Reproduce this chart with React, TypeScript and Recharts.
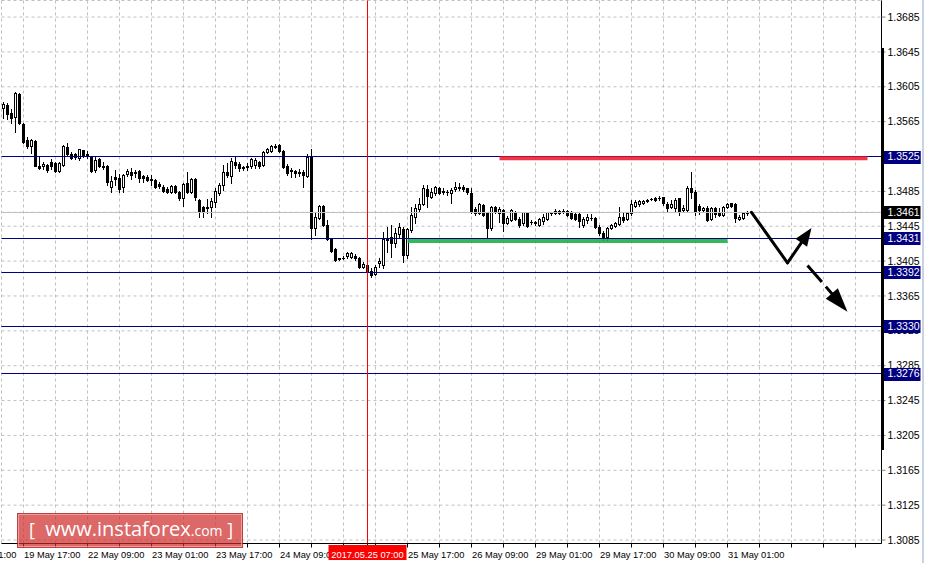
import React from 'react';
import { ComposedChart, Bar, XAxis, YAxis, CartesianGrid, ReferenceLine } from 'recharts';

// H1 candles, [open, high, low, close], one list per trading day
const may19 = [
  [1.3581, 1.3588, 1.3569, 1.3585], [1.3584, 1.3586, 1.3568, 1.3574], [1.3575, 1.3579, 1.3563, 1.3569],
  [1.3570, 1.3599, 1.3553, 1.3598], [1.3597, 1.3598, 1.3562, 1.3563], [1.3562, 1.3563, 1.3541, 1.3542],
  [1.3544, 1.3547, 1.3535, 1.3537], [1.3537, 1.3545, 1.3529, 1.3544], [1.3543, 1.3544, 1.3514, 1.3514],
  [1.3514, 1.3524, 1.3511, 1.3512], [1.3514, 1.3519, 1.3511, 1.3516], [1.3515, 1.3516, 1.3507, 1.3510],
];
const may22 = [
  [1.3519, 1.3522, 1.3511, 1.3514], [1.3518, 1.3519, 1.3507, 1.3508], [1.3508, 1.3519, 1.3507, 1.3518],
  [1.3515, 1.3538, 1.3514, 1.3537], [1.3536, 1.3540, 1.3526, 1.3528], [1.3528, 1.3530, 1.3522, 1.3523],
  [1.3528, 1.3529, 1.3522, 1.3524], [1.3523, 1.3534, 1.3521, 1.3534], [1.3532, 1.3533, 1.3524, 1.3527],
  [1.3528, 1.3531, 1.3523, 1.3526], [1.3524, 1.3526, 1.3507, 1.3508], [1.3510, 1.3526, 1.3507, 1.3521],
  [1.3522, 1.3523, 1.3513, 1.3514], [1.3514, 1.3519, 1.3511, 1.3513], [1.3514, 1.3515, 1.3492, 1.3496],
  [1.3490, 1.3503, 1.3484, 1.3497], [1.3502, 1.3510, 1.3492, 1.3499], [1.3500, 1.3505, 1.3484, 1.3488],
  [1.3490, 1.3505, 1.3484, 1.3504], [1.3505, 1.3511, 1.3503, 1.3508], [1.3507, 1.3512, 1.3499, 1.3504],
  [1.3507, 1.3510, 1.3502, 1.3506], [1.3508, 1.3510, 1.3496, 1.3500], [1.3503, 1.3504, 1.3496, 1.3500],
];
const may23 = [
  [1.3502, 1.3504, 1.3497, 1.3498], [1.3499, 1.3504, 1.3492, 1.3498], [1.3498, 1.3499, 1.3489, 1.3490],
  [1.3493, 1.3496, 1.3489, 1.3491], [1.3490, 1.3492, 1.3484, 1.3485], [1.3488, 1.3490, 1.3483, 1.3484],
  [1.3484, 1.3492, 1.3483, 1.3491], [1.3491, 1.3492, 1.3483, 1.3484], [1.3484, 1.3485, 1.3475, 1.3477],
  [1.3477, 1.3495, 1.3468, 1.3493], [1.3495, 1.3507, 1.3483, 1.3484], [1.3484, 1.3500, 1.3483, 1.3499],
  [1.3499, 1.3500, 1.3475, 1.3478], [1.3475, 1.3476, 1.3456, 1.3462], [1.3467, 1.3468, 1.3456, 1.3461],
  [1.3467, 1.3476, 1.3460, 1.3466], [1.3467, 1.3477, 1.3456, 1.3474], [1.3473, 1.3489, 1.3467, 1.3485],
  [1.3483, 1.3495, 1.3481, 1.3492], [1.3492, 1.3515, 1.3487, 1.3507], [1.3507, 1.3518, 1.3502, 1.3504],
  [1.3503, 1.3523, 1.3495, 1.3520], [1.3519, 1.3524, 1.3512, 1.3515], [1.3516, 1.3519, 1.3508, 1.3512],
];
const may24 = [
  [1.3513, 1.3514, 1.3510, 1.3512], [1.3514, 1.3518, 1.3510, 1.3513], [1.3514, 1.3523, 1.3512, 1.3522],
  [1.3515, 1.3523, 1.3512, 1.3521], [1.3519, 1.3520, 1.3512, 1.3514], [1.3515, 1.3531, 1.3514, 1.3530],
  [1.3530, 1.3535, 1.3529, 1.3534], [1.3531, 1.3538, 1.3530, 1.3537], [1.3537, 1.3539, 1.3535, 1.3536],
  [1.3538, 1.3539, 1.3530, 1.3531], [1.3531, 1.3532, 1.3512, 1.3513], [1.3514, 1.3516, 1.3504, 1.3506],
  [1.3509, 1.3512, 1.3502, 1.3508], [1.3508, 1.3510, 1.3502, 1.3506], [1.3507, 1.3511, 1.3503, 1.3506],
  [1.3507, 1.3510, 1.3490, 1.3504], [1.3503, 1.3528, 1.3502, 1.3524], [1.3524, 1.3534, 1.3430, 1.3443],
  [1.3443, 1.3461, 1.3435, 1.3456], [1.3454, 1.3469, 1.3453, 1.3468], [1.3468, 1.3469, 1.3445, 1.3446],
  [1.3446, 1.3452, 1.3429, 1.3430], [1.3430, 1.3431, 1.3416, 1.3417], [1.3419, 1.3420, 1.3405, 1.3406],
];
const may25 = [
  [1.3408, 1.3409, 1.3406, 1.3407], [1.3408, 1.3411, 1.3407, 1.3408], [1.3411, 1.3416, 1.3409, 1.3414],
  [1.3410, 1.3415, 1.3409, 1.3414], [1.3411, 1.3413, 1.3406, 1.3408], [1.3408, 1.3410, 1.3397, 1.3398],
  [1.3398, 1.3404, 1.3397, 1.3402], [1.3401, 1.3403, 1.3393, 1.3394], [1.3394, 1.3397, 1.3387, 1.3389],
  [1.3390, 1.3400, 1.3389, 1.3398], [1.3403, 1.3409, 1.3398, 1.3405], [1.3401, 1.3438, 1.3397, 1.3430],
  [1.3431, 1.3444, 1.3416, 1.3429], [1.3433, 1.3446, 1.3410, 1.3426], [1.3426, 1.3443, 1.3421, 1.3437],
  [1.3436, 1.3449, 1.3433, 1.3444], [1.3442, 1.3444, 1.3404, 1.3412], [1.3412, 1.3443, 1.3409, 1.3442],
  [1.3441, 1.3467, 1.3438, 1.3458], [1.3456, 1.3471, 1.3449, 1.3466], [1.3465, 1.3477, 1.3461, 1.3471],
  [1.3471, 1.3492, 1.3469, 1.3489], [1.3488, 1.3492, 1.3467, 1.3480], [1.3479, 1.3489, 1.3477, 1.3484],
];
const may26 = [
  [1.3483, 1.3491, 1.3481, 1.3490], [1.3489, 1.3490, 1.3482, 1.3483], [1.3485, 1.3489, 1.3482, 1.3484],
  [1.3484, 1.3487, 1.3481, 1.3484], [1.3483, 1.3489, 1.3472, 1.3487], [1.3488, 1.3496, 1.3485, 1.3490],
  [1.3489, 1.3495, 1.3487, 1.3490], [1.3490, 1.3492, 1.3485, 1.3488], [1.3489, 1.3489, 1.3482, 1.3484],
  [1.3483, 1.3489, 1.3460, 1.3461], [1.3465, 1.3467, 1.3458, 1.3460], [1.3460, 1.3472, 1.3459, 1.3471],
  [1.3469, 1.3471, 1.3457, 1.3458], [1.3460, 1.3461, 1.3431, 1.3443], [1.3443, 1.3468, 1.3441, 1.3467],
  [1.3467, 1.3468, 1.3460, 1.3461], [1.3460, 1.3467, 1.3450, 1.3465], [1.3464, 1.3465, 1.3440, 1.3449],
  [1.3449, 1.3457, 1.3448, 1.3454], [1.3452, 1.3465, 1.3451, 1.3464], [1.3461, 1.3462, 1.3452, 1.3453],
  [1.3453, 1.3456, 1.3444, 1.3446], [1.3449, 1.3461, 1.3446, 1.3461], [1.3460, 1.3461, 1.3444, 1.3445],
];
const may29 = [
  [1.3450, 1.3452, 1.3448, 1.3450], [1.3450, 1.3451, 1.3446, 1.3449], [1.3446, 1.3454, 1.3445, 1.3453],
  [1.3451, 1.3459, 1.3448, 1.3456], [1.3453, 1.3461, 1.3452, 1.3461], [1.3460, 1.3461, 1.3458, 1.3460],
  [1.3460, 1.3465, 1.3459, 1.3462], [1.3462, 1.3464, 1.3459, 1.3460], [1.3462, 1.3465, 1.3460, 1.3462],
  [1.3462, 1.3464, 1.3457, 1.3458], [1.3461, 1.3462, 1.3453, 1.3454], [1.3459, 1.3461, 1.3452, 1.3453],
  [1.3459, 1.3460, 1.3444, 1.3451], [1.3446, 1.3456, 1.3444, 1.3453], [1.3452, 1.3459, 1.3449, 1.3456],
  [1.3455, 1.3459, 1.3452, 1.3454], [1.3454, 1.3456, 1.3443, 1.3444], [1.3444, 1.3446, 1.3435, 1.3437],
  [1.3437, 1.3440, 1.3429, 1.3433], [1.3433, 1.3444, 1.3429, 1.3443], [1.3443, 1.3448, 1.3442, 1.3446],
  [1.3445, 1.3450, 1.3444, 1.3449], [1.3448, 1.3467, 1.3446, 1.3456], [1.3456, 1.3461, 1.3450, 1.3452],
];
const may30 = [
  [1.3453, 1.3461, 1.3452, 1.3460], [1.3460, 1.3475, 1.3458, 1.3471], [1.3468, 1.3475, 1.3467, 1.3473],
  [1.3471, 1.3475, 1.3468, 1.3474], [1.3472, 1.3475, 1.3471, 1.3474], [1.3475, 1.3476, 1.3473, 1.3474],
  [1.3476, 1.3477, 1.3475, 1.3476], [1.3477, 1.3479, 1.3474, 1.3475], [1.3477, 1.3480, 1.3475, 1.3477],
  [1.3479, 1.3479, 1.3469, 1.3472], [1.3471, 1.3473, 1.3461, 1.3466], [1.3467, 1.3475, 1.3466, 1.3471],
  [1.3466, 1.3477, 1.3461, 1.3475], [1.3477, 1.3477, 1.3458, 1.3461], [1.3464, 1.3469, 1.3461, 1.3466],
  [1.3464, 1.3491, 1.3461, 1.3489], [1.3489, 1.3507, 1.3477, 1.3484], [1.3484, 1.3487, 1.3458, 1.3461],
  [1.3468, 1.3471, 1.3459, 1.3464], [1.3464, 1.3467, 1.3461, 1.3466], [1.3466, 1.3468, 1.3451, 1.3452],
  [1.3453, 1.3467, 1.3452, 1.3466], [1.3466, 1.3467, 1.3456, 1.3459], [1.3460, 1.3466, 1.3457, 1.3458],
];
const may31 = [
  [1.3458, 1.3468, 1.3457, 1.3467], [1.3467, 1.3472, 1.3466, 1.3471], [1.3472, 1.3472, 1.3467, 1.3468],
  [1.3471, 1.3472, 1.3450, 1.3454], [1.3453, 1.3458, 1.3452, 1.3456], [1.3454, 1.3461, 1.3453, 1.3460],
  [1.3460, 1.3462, 1.3458, 1.3461],
];

// bar index -> time label (one label every 16 bars); the 25 May 01:00 one sits under the cursor label
const timeLabels: [number, string][] = [
  [5, '19 May 17:00'], [21, '22 May 09:00'], [37, '23 May 01:00'], [53, '23 May 17:00'],
  [69, '24 May 09:00'], [101, '25 May 17:00'], [117, '26 May 09:00'],
  [133, '29 May 01:00'], [149, '29 May 17:00'], [165, '30 May 09:00'], [181, '31 May 01:00'],
];
const cutLabel = '19 May 01:00'; // only its tail shows at the left edge
const crossIdx = 91;
const crossLabel = '2017.05.25 07:00';

const priceTicks = [
  1.3085, 1.3125, 1.3165, 1.3205, 1.3245, 1.3285, 1.3325, 1.3365,
  1.3405, 1.3445, 1.3485, 1.3525, 1.3565, 1.3605, 1.3645, 1.3685,
];
const levels = [1.3525, 1.3431, 1.3392, 1.3330, 1.3276];
const bid = 1.3461;

const resistance = { from: 124, to: 216, price: 1.3523 };
const support = { from: 101, to: 181, price: 1.3428 };
const legDown = [{ x: 187, y: 1.3461 }, { x: 196, y: 1.3403 }];
const legUp = [{ x: 196, y: 1.3403 }, { x: 202, y: 1.3443 }];
const legBreak = [{ x: 201, y: 1.3400 }, { x: 211, y: 1.3347 }];

const SLOTS = 220; // empty bars keep the right-hand shift of the chart
const FONT = '"Liberation Sans", Arial, sans-serif';

const candles = [may19, may22, may23, may24, may25, may26, may29, may30, may31].flat();
const data = Array.from({ length: SLOTS }, (_, i) => {
  const k = candles[i];
  return k
    ? { i, o: k[0], h: k[1], l: k[2], c: k[3], range: [k[2], k[1]] }
    : { i, range: null };
});

const xTicks = [...Array.from({ length: 27 }, (_, n) => 5 + n * 8), crossIdx];
const yTicks = [...priceTicks, ...levels, bid];
const labelAt = new Map(timeLabels);

const Candle = (props: any) => {
  const { x, y, width, height, payload } = props;
  if (!payload || payload.o == null || !isFinite(y)) return <g />;
  const { o, h, l, c } = payload;
  const top = Math.min(y, y + height);
  const span = Math.abs(height);
  const py = (v: number) => Math.round(h === l ? top : top + ((h - v) / (h - l)) * span);
  const pc = Math.floor(x + width / 2);
  const yH = py(h);
  const yL = py(l);
  const bTop = py(Math.max(o, c));
  const bBot = py(Math.min(o, c));
  return (
    <g>
      <line x1={pc + 0.5} x2={pc + 0.5} y1={yH} y2={yL + 1} stroke="#000" strokeWidth={1} />
      {c > o && bBot > bTop ? (
        <rect x={pc - 0.5} y={bTop + 0.5} width={2} height={bBot - bTop} fill="#fff" stroke="#000" strokeWidth={1} />
      ) : (
        <rect x={pc - 1} y={bTop} width={3} height={bBot - bTop + 1} fill="#000" />
      )}
    </g>
  );
};

const CrispLine = (p: any) => {
  const horiz = Math.abs(p.y1 - p.y2) < 0.01;
  const f = (v: number) => Math.floor(v) + 0.5;
  return (
    <line
      x1={horiz ? p.x1 : f(p.x1)} x2={horiz ? p.x2 : f(p.x2)}
      y1={horiz ? f(p.y1) : p.y1} y2={horiz ? f(p.y2) : p.y2}
      stroke={p.stroke} strokeWidth={1}
    />
  );
};

const ArrowLine = ({ x1, y1, x2, y2, head, dashed, len, half }: any) => {
  const d = Math.hypot(x2 - x1, y2 - y1);
  const ux = (x2 - x1) / d;
  const uy = (y2 - y1) / d;
  const bx = x2 - ux * len;
  const by = y2 - uy * len;
  const ex = head ? x2 - ux * len * 0.7 : x2;
  const ey = head ? y2 - uy * len * 0.7 : y2;
  return (
    <g>
      <line x1={x1} y1={y1} x2={ex} y2={ey} stroke="#000" strokeWidth={3}
        strokeDasharray={dashed ? '22 6' : undefined} strokeLinecap={dashed ? 'butt' : 'round'} />
      {head && (
        <polygon
          points={`${x2},${y2} ${bx - uy * half},${by + ux * half} ${bx + uy * half},${by - ux * half}`}
          fill="#000"
        />
      )}
    </g>
  );
};

const TimeTick = (p: any) => {
  const i = p.payload.value;
  if (i === crossIdx) {
    return (
      <g>
        <rect x={p.x - 39} y={p.y - 4.5} width={78} height={15} fill="#ff0000" />
        <text x={p.x} y={p.y + 8} textAnchor="middle" fill="#fff" fontSize={9.3} fontFamily={FONT}>{crossLabel}</text>
      </g>
    );
  }
  const t = labelAt.get(i);
  if (!t) return <g />;
  return (
    <g>
      {i === timeLabels[0][0] && (
        <text x={p.x + 0.5 - 64} y={p.y + 8} fill="#000" fontSize={9.3} fontFamily={FONT}>{cutLabel}</text>
      )}
      <text x={p.x + 0.5} y={p.y + 8} fill="#000" fontSize={9.3} fontFamily={FONT}>{t}</text>
    </g>
  );
};

const PriceTick = (p: any) => {
  const v = p.payload.value;
  const fill = levels.includes(v) ? '#000080' : v === bid ? '#000' : null;
  return (
    <g>
      {fill && <rect x={p.x - 4} y={Math.round(p.y) - 6} width={37} height={13} fill={fill} />}
      <text x={p.x} y={p.y + 3.6} fill={fill ? '#fff' : '#000'} fontSize={10.5} fontFamily={FONT}>{v.toFixed(4)}</text>
    </g>
  );
};

export default function App() {
  return (
    <div style={{ position: 'absolute', left: 0, top: 0, width: 925, height: 563, background: '#fff', overflow: 'hidden' }}>
      <ComposedChart
        width={925}
        height={563}
        data={data}
        margin={{ top: 0.5, right: 0, bottom: 0, left: 1.5 }}
        barCategoryGap={0}
      >
        <CartesianGrid stroke="#c0c0c0" strokeDasharray="3 3" />
        <XAxis
          dataKey="i"
          type="category"
          ticks={xTicks}
          interval={0}
          height={19.5}
          tickSize={4}
          tickMargin={2}
          axisLine={{ stroke: '#000' }}
          tickLine={{ stroke: '#000' }}
          tick={<TimeTick />}
        />
        <YAxis
          orientation="right"
          type="number"
          domain={[1.3081, 1.3704]}
          allowDataOverflow
          ticks={yTicks}
          interval={0}
          width={43.5}
          tickSize={4}
          tickMargin={2}
          axisLine={{ stroke: '#000' }}
          tickLine={{ stroke: '#808080' }}
          tick={<PriceTick />}
        />
        {levels.map((v) => (
          <ReferenceLine key={v} y={v} stroke="#000080" shape={CrispLine} />
        ))}
        <ReferenceLine y={bid} stroke="#c0c0c0" shape={CrispLine} />
        <ReferenceLine x={crossIdx} stroke="#ff0000" shape={CrispLine} />
        <Bar dataKey="range" shape={Candle} isAnimationActive={false} />
        <ReferenceLine
          segment={[{ x: resistance.from, y: resistance.price }, { x: resistance.to, y: resistance.price }]}
          stroke="#f2202e" strokeWidth={4} strokeOpacity={0.9}
        />
        <ReferenceLine
          segment={[{ x: support.from, y: support.price }, { x: support.to, y: support.price }]}
          stroke="#1fb048" strokeWidth={4} strokeOpacity={0.9}
        />
        <ReferenceLine segment={legDown} shape={(p: any) => <ArrowLine {...p} len={0} half={0} />} />
        <ReferenceLine segment={legUp} shape={(p: any) => <ArrowLine {...p} head len={18} half={7} />} />
        <ReferenceLine segment={legBreak} shape={(p: any) => <ArrowLine {...p} head dashed len={24} half={8} />} />
      </ComposedChart>

      {/* thick part of the price scale border */}
      <div style={{ position: 'absolute', left: 881, top: 48, width: 3, height: 402, background: '#000' }} />
      <div style={{ position: 'absolute', left: 922, top: 0, width: 2, height: 563, background: '#c8d4e4' }} />

      <div
        style={{
          position: 'absolute', left: 17, top: 513, width: 226, height: 35, boxSizing: 'border-box',
          background: 'rgba(205, 40, 40, 0.7)', border: '1px solid rgba(150, 30, 30, 0.5)',
          boxShadow: 'inset 0 0 0 1px rgba(255, 190, 190, 0.6)',
        }}
      >
        <div style={{ position: 'absolute', left: 11, top: 1, whiteSpace: 'pre', lineHeight: '28px', color: '#fff', fontFamily: '"Open Sans", sans-serif' }}>
          <span style={{ fontSize: 18 }}>[</span>
          <span style={{ fontSize: 20 }}>{'  www.instaforex'}</span>
          <span style={{ fontSize: 14 }}>.com</span>
          <span style={{ fontSize: 18 }}>{' ]'}</span>
        </div>
      </div>
    </div>
  );
}
